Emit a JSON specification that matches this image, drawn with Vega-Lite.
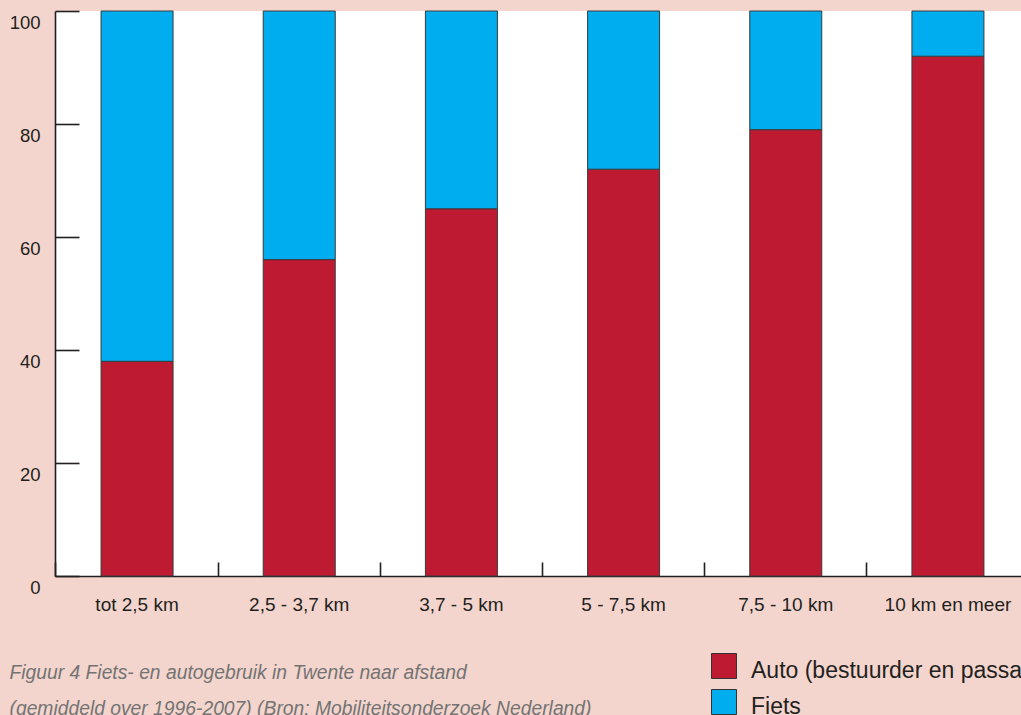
{
  "$schema": "https://vega.github.io/schema/vega-lite/v6.json",
  "autosize": "none",
  "width": 975,
  "height": 565,
  "padding": {"left": 55, "top": 11, "right": -9, "bottom": 139},
  "background": "#f3d5cd",
  "config": {
    "view": {"fill": "white", "stroke": null},
    "axis": {
      "labelFont": "Liberation Sans",
      "labelColor": "#231f20",
      "domainColor": "#231f20",
      "domainWidth": 1.6,
      "tickColor": "#231f20",
      "tickWidth": 1.6,
      "grid": false
    },
    "legend": {
      "labelFont": "Liberation Sans",
      "labelFontSize": 23,
      "labelColor": "#231f20"
    }
  },
  "data": {
    "values": [
      {"afstand": "tot 2,5 km", "vervoer": "Auto (bestuurder en passagier)", "waarde": 38},
      {"afstand": "tot 2,5 km", "vervoer": "Fiets", "waarde": 62},
      {"afstand": "2,5 - 3,7 km", "vervoer": "Auto (bestuurder en passagier)", "waarde": 56},
      {"afstand": "2,5 - 3,7 km", "vervoer": "Fiets", "waarde": 44},
      {"afstand": "3,7 - 5 km", "vervoer": "Auto (bestuurder en passagier)", "waarde": 65},
      {"afstand": "3,7 - 5 km", "vervoer": "Fiets", "waarde": 35},
      {"afstand": "5 - 7,5 km", "vervoer": "Auto (bestuurder en passagier)", "waarde": 72},
      {"afstand": "5 - 7,5 km", "vervoer": "Fiets", "waarde": 28},
      {"afstand": "7,5 - 10 km", "vervoer": "Auto (bestuurder en passagier)", "waarde": 79},
      {"afstand": "7,5 - 10 km", "vervoer": "Fiets", "waarde": 21},
      {"afstand": "10 km en meer", "vervoer": "Auto (bestuurder en passagier)", "waarde": 92},
      {"afstand": "10 km en meer", "vervoer": "Fiets", "waarde": 8}
    ]
  },
  "mark": {"type": "bar", "stroke": "#3a3a3a", "strokeWidth": 1},
  "encoding": {
    "x": {
      "field": "afstand",
      "type": "nominal",
      "sort": null,
      "scale": {"paddingInner": 0.556, "paddingOuter": 0.284},
      "axis": {
        "labelAngle": 0,
        "labelFontSize": 19,
        "bandPosition": -0.626,
        "tickSize": -14,
        "labelPadding": 33,
        "title": ["Figuur 4 Fiets- en autogebruik in Twente naar afstand", "(gemiddeld over 1996-2007) (Bron: Mobiliteitsonderzoek Nederland)"],
        "titleFont": "Liberation Sans",
        "titleFontSize": 19.3,
        "titleFontStyle": "italic",
        "titleFontWeight": "normal",
        "titleColor": "#737373",
        "titleAlign": "left",
        "titleBaseline": "alphabetic",
        "titleX": -46,
        "titleY": 102,
        "titleLineHeight": 36
      }
    },
    "y": {
      "field": "waarde",
      "type": "quantitative",
      "stack": "zero",
      "scale": {"domain": [0, 100], "nice": false},
      "axis": {
        "title": null,
        "values": [0, 20, 40, 60, 80, 100],
        "labelFontSize": 18.5,
        "tickSize": -24,
        "labelPadding": 39,
        "labelBaseline": "top",
        "labelOffset": 2
      }
    },
    "color": {
      "field": "vervoer",
      "type": "nominal",
      "scale": {"domain": ["Auto (bestuurder en passagier)", "Fiets"], "range": ["#be1a32", "#00aeef"]},
      "legend": {
        "title": null,
        "orient": "none",
        "legendX": 656,
        "legendY": 642,
        "symbolType": "square",
        "symbolSize": 625,
        "symbolStrokeColor": "#333333",
        "symbolStrokeWidth": 1,
        "symbolOpacity": 1,
        "rowPadding": 4,
        "labelOffset": 14,
        "labelLimit": 600,
        "encode": {"labels": {"update": {"dy": {"value": 5}}}}
      }
    },
    "order": {"field": "vervoer", "sort": "ascending"}
  }
}
